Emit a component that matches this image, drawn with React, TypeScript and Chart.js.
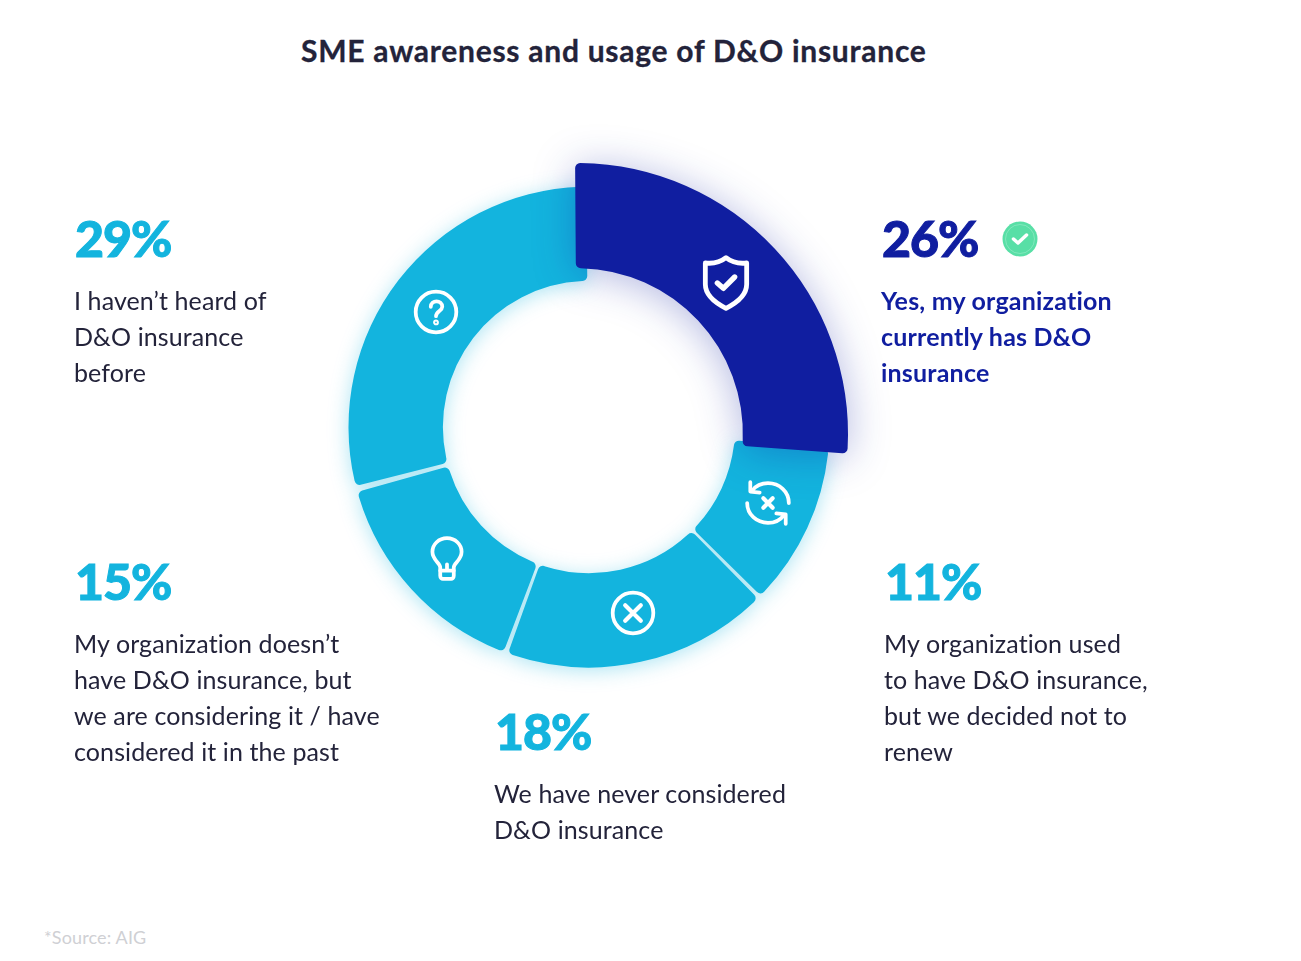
import React, { useEffect, useRef } from "react";
import { Chart, registerables } from "chart.js";

Chart.register(...registerables);

const TITLE = "SME awareness and usage of D&O insurance";
const SOURCE = "*Source: AIG";
const categories = [
  "Yes, my organization currently has D&O insurance",
  "My organization used to have D&O insurance, but we decided not to renew",
  "We have never considered D&O insurance",
  "My organization doesn’t have D&O insurance, but we are considering it / have considered it in the past",
  "I haven’t heard of D&O insurance before",
];
const shares = [26, 11, 18, 15, 29];

const DARK = "#101ea0";
const CYAN = "#13b4de";
const INK = "#23233a";
const FONT = "Lato, sans-serif";

const blocks = [
  { pct: "26%", x: 881, y: 211, color: DARK, ink: DARK, weight: 700, ls: 0.2, lines: ["Yes, my organization", "currently has D&O", "insurance"] },
  { pct: "11%", x: 884, y: 554, color: CYAN, ink: INK, weight: 400, ls: 0.1, lines: ["My organization used", "to have D&O insurance,", "but we decided not to", "renew"] },
  { pct: "18%", x: 494, y: 704, color: CYAN, ink: INK, weight: 400, ls: 0.1, lines: ["We have never considered", "D&O insurance"] },
  { pct: "15%", x: 74, y: 554, color: CYAN, ink: INK, weight: 400, ls: 0.1, lines: ["My organization doesn’t", "have D&O insurance, but", "we are considering it / have", "considered it in the past"] },
  { pct: "29%", x: 74, y: 211, color: CYAN, ink: INK, weight: 400, ls: 0.1, lines: ["I haven’t heard of", "D&O insurance", "before"] },
];

function Ring(props: {
  cx: number; cy: number; radius: number; cutout: number; rotation: number; spacing: number;
  colors: string[]; shadow: string;
}) {
  const ref = useRef<HTMLCanvasElement>(null);
  const size = Math.ceil(props.radius) * 2 + 20;
  useEffect(() => {
    const chart = new Chart(ref.current!, {
      type: "doughnut",
      data: {
        labels: categories,
        datasets: [{
          data: shares,
          backgroundColor: props.colors,
          borderWidth: 0,
          borderRadius: 5,
          spacing: props.spacing,
        }],
      },
      options: {
        animation: false,
        responsive: false,
        events: [],
        rotation: props.rotation,
        radius: props.radius,
        cutout: props.cutout,
        plugins: { legend: { display: false }, tooltip: { enabled: false } },
      },
    });
    return () => chart.destroy();
  }, []);
  return (
    <canvas
      ref={ref}
      width={size}
      height={size}
      style={{
        position: "absolute",
        left: props.cx - size / 2,
        top: props.cy - size / 2,
        width: size,
        height: size,
        filter: props.shadow,
      }}
    />
  );
}

function Icon(props: { cx: number; cy: number; size: number; children: React.ReactNode }) {
  return (
    <svg
      viewBox="-24 -24 48 48"
      width={props.size}
      height={props.size}
      style={{ position: "absolute", left: props.cx - props.size / 2, top: props.cy - props.size / 2 }}
      fill="none"
      stroke="#fff"
      strokeWidth={3.6}
      strokeLinecap="round"
      strokeLinejoin="round"
    >
      {props.children}
    </svg>
  );
}

export default function App() {
  return (
    <div style={{ position: "absolute", left: 0, top: 0, width: 1301, height: 961, background: "#fff", overflow: "hidden", fontFamily: FONT }}>
      <div style={{ position: "absolute", left: 301, top: 31, fontSize: 30, lineHeight: "38px", fontWeight: 700, letterSpacing: 0.74, WebkitTextStroke: `0.3px ${INK}`, color: INK, whiteSpace: "nowrap" }}>{TITLE}</div>

      <Ring cx={589} cy={427} radius={237} cutout={146.5} rotation={0.3} spacing={7}
        colors={["rgba(0,0,0,0)", CYAN, CYAN, CYAN, CYAN]}
        shadow="drop-shadow(0 3px 10px rgba(20,180,222,0.35))" />
      <Ring cx={577} cy={434} radius={271} cutout={172} rotation={-0.4} spacing={0}
        colors={[DARK, "rgba(0,0,0,0)", "rgba(0,0,0,0)", "rgba(0,0,0,0)", "rgba(0,0,0,0)"]}
        shadow="drop-shadow(0 4px 20px rgba(16,30,160,0.32))" />

      <Icon cx={726} cy={283} size={64}>
        <path d="M0 -19 C5 -15 11 -14.5 15.5 -15 L15.5 1 C15.5 10 7 15.5 0 19 C-7 15.5 -15.5 10 -15.5 1 L-15.5 -15 C-11 -14.5 -5 -15 0 -19 Z" />
        <path d="M-6.5 0 L-2 4 L6.5 -4.5" strokeWidth={4} />
      </Icon>
      <Icon cx={436} cy={312} size={50}>
        <circle cx={0} cy={0} r={19.5} />
        <path d="M-5 -5 C-5 -12 6 -12 6 -5 C6 -1 0 -1 0 4" />
        <circle cx={0} cy={10} r={1} />
      </Icon>
      <Icon cx={447} cy={558} size={50}>
        <path d="M-6.5 17 L-6.5 9 C-6.5 5 -14 2 -14 -6 C-14 -13 -8 -19 0 -19 C8 -19 14 -13 14 -6 C14 2 6.5 5 6.5 9 L6.5 17 C6.5 19 5 20 4 20 L-4 20 C-5 20 -6.5 19 -6.5 17 Z" />
        <path d="M-6.5 12 L6.5 12 M0 12 L0 6" />
      </Icon>
      <Icon cx={633} cy={613} size={50}>
        <circle cx={0} cy={0} r={19.5} />
        <path d="M-7.5 -7.5 L7.5 7.5 M7.5 -7.5 L-7.5 7.5" strokeWidth={4} />
      </Icon>
      <Icon cx={768} cy={503} size={50}>
        <path d="M20 0 C20 -11 11 -19 0 -19 C-6 -19 -12 -16 -15 -12" />
        <path d="M-17 -20 L-17 -11 L-8 -10" />
        <path d="M-20 0 C-20 11 -11 19 0 19 C6 19 12 16 15 12" />
        <path d="M17 20 L17 11 L8 10" />
        <path d="M-4.5 -4.5 L4.5 4.5 M4.5 -4.5 L-4.5 4.5" strokeWidth={4} />
      </Icon>

      <svg width={36} height={36} viewBox="0 0 36 36" style={{ position: "absolute", left: 1002, top: 221 }}>
        <circle cx={18} cy={18} r={17.5} fill="#58dfa6" />
        <circle cx={18} cy={18} r={14.5} fill="none" stroke="#fff" strokeOpacity={0.35} strokeWidth={0.7} />
        <path d="M11.5 18 L16 22 L24.5 14" fill="none" stroke="#fff" strokeWidth={3.5} strokeLinecap="round" strokeLinejoin="round" />
      </svg>

      {blocks.map((b) => (
        <div key={b.pct} style={{ position: "absolute", left: b.x, top: b.y, whiteSpace: "nowrap" }}>
          <div style={{ fontSize: 50, lineHeight: "54px", fontWeight: 900, color: b.color, height: 53, marginLeft: 1, WebkitTextStroke: `1px ${b.color}`, letterSpacing: -1 }}>{b.pct}</div>
          <div style={{ marginTop: 18 }}>
            {b.lines.map((l) => (
              <div key={l} style={{ fontSize: 25, lineHeight: "36px", fontWeight: b.weight, letterSpacing: b.ls, color: b.ink }}>{l}</div>
            ))}
          </div>
        </div>
      ))}

      <div style={{ position: "absolute", left: 44, top: 926, fontSize: 18, lineHeight: "22px", letterSpacing: 0.15, color: "#cfd0d4" }}>{SOURCE}</div>
    </div>
  );
}
